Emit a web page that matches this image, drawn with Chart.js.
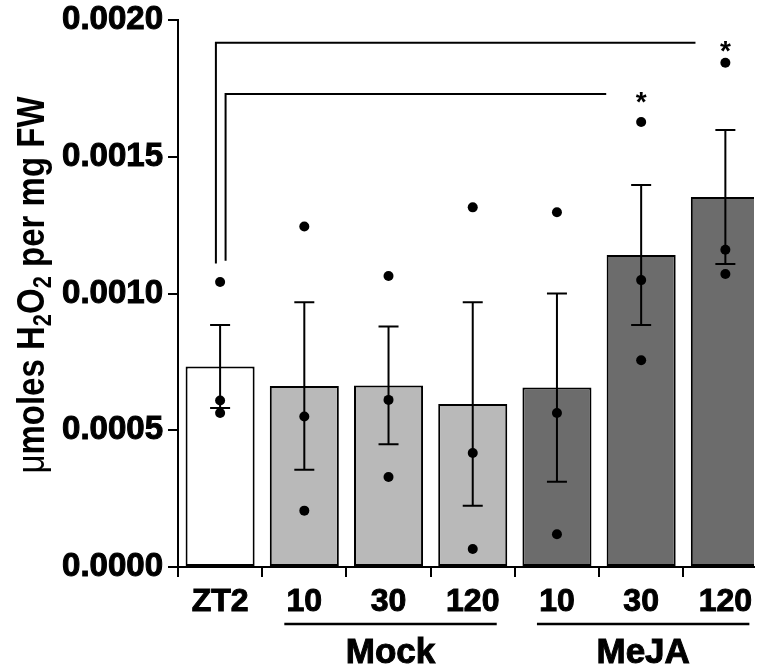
<!DOCTYPE html>
<html>
<head>
<meta charset="utf-8">
<script src="https://cdn.jsdelivr.net/npm/chart.js@4.4.0/dist/chart.umd.min.js"></script>
<style>
  html, body { margin: 0; padding: 0; background: #fff; overflow: hidden; }
  #wrap { width: 759px; height: 669px; }
</style>
</head>
<body>
<div id="wrap"><canvas id="mycanvas" width="759" height="669"></canvas></div>
<script>
// values
var categories = ['ZT2', '10', '30', '120', '10', '30', '120'];
var groupNames = ['Mock', 'MeJA'];
var groupStart = [1, 4];
var groupEnd = [3, 6];
var means = [0.000733, 0.000662, 0.000664, 0.000596, 0.000656, 0.001141, 0.001353];
var sems = [0.000152, 0.000306, 0.000215, 0.000372, 0.000344, 0.000256, 0.000245];
var replicates = [
  [0.001042, 0.000609, 0.000563],
  [0.001245, 0.000550, 0.000206],
  [0.001064, 0.000611, 0.000329],
  [0.001315, 0.000417, 0.000066],
  [0.001297, 0.000563, 0.000120],
  [0.001627, 0.001049, 0.000756],
  [0.001844, 0.001160, 0.001071]
];
var yTicks = [0, 0.0005, 0.0010, 0.0015, 0.0020];
// significance brackets: left leg, right end, top level, foot level, star over category
var brackets = [
  { x0: -0.05, x1: 5.645, top: 0.001917, foot: 0.00111, star: 6 },
  { x0: 0.065, x1: 4.585, top: 0.001729, foot: 0.00112, star: 5 }
];

var barColors = ['#ffffff', '#b9b9b9', '#b9b9b9', '#b9b9b9', '#6c6c6c', '#6c6c6c', '#6c6c6c'];

var barData = means.map(function (m, i) { return { x: i, y: m }; });
var dotData = [];
replicates.forEach(function (reps, i) {
  reps.forEach(function (v) { dotData.push({ x: i, y: v }); });
});

var errorBars = {
  id: 'errorBars',
  afterDatasetDraw: function (chart, args) {
    if (args.index !== 0) return;
    var ctx = chart.ctx, x = chart.scales.x, y = chart.scales.y;
    ctx.save();
    ctx.strokeStyle = '#000';
    ctx.lineWidth = 2;
    for (var i = 0; i < means.length; i++) {
      var px = x.getPixelForValue(i);
      var hi = y.getPixelForValue(means[i] + sems[i]);
      var lo = y.getPixelForValue(means[i] - sems[i]);
      ctx.beginPath();
      ctx.moveTo(px, hi); ctx.lineTo(px, lo);
      ctx.moveTo(px - 10, hi); ctx.lineTo(px + 10, hi);
      ctx.moveTo(px - 10, lo); ctx.lineTo(px + 10, lo);
      ctx.stroke();
    }
    ctx.restore();
  }
};

var extras = {
  id: 'extras',
  afterDraw: function (chart) {
    var ctx = chart.ctx, x = chart.scales.x, y = chart.scales.y;
    ctx.save();
    ctx.strokeStyle = '#000';
    ctx.fillStyle = '#000';

    // brackets + stars
    ctx.lineWidth = 2;
    brackets.forEach(function (b) {
      var xl = x.getPixelForValue(b.x0), xr = x.getPixelForValue(b.x1);
      var yt = y.getPixelForValue(b.top), yf = y.getPixelForValue(b.foot);
      ctx.beginPath();
      ctx.moveTo(xl, yf); ctx.lineTo(xl, yt); ctx.lineTo(xr, yt);
      ctx.stroke();
      ctx.font = 'bold 28px "Liberation Sans"';
      ctx.textAlign = 'center';
      ctx.textBaseline = 'alphabetic';
      ctx.fillText('*', x.getPixelForValue(b.star), yt + 17);
    });

    // group underlines and names
    ctx.lineWidth = 2.5;
    ctx.font = 'bold 35px "Liberation Sans"';
    ctx.textAlign = 'center';
    ctx.textBaseline = 'alphabetic';
    for (var g = 0; g < groupNames.length; g++) {
      var a = x.getPixelForValue(groupStart[g]) - 20;
      var b = x.getPixelForValue(groupEnd[g]) + 24;
      ctx.beginPath();
      ctx.moveTo(a, 624); ctx.lineTo(b, 624);
      ctx.stroke();
      ctx.lineWidth = 1;
      ctx.strokeText(groupNames[g], (a + b) / 2, 663);
      ctx.fillText(groupNames[g], (a + b) / 2, 663);
      ctx.lineWidth = 2.5;
    }

    // y title with subscripts
    var parts = [
      { t: '\u03bc', f: '33px "Liberation Sans"', dy: 0 },
      { t: 'moles H', f: 'bold 33px "Liberation Sans"', dy: 0 },
      { t: '2', f: 'bold 22px "Liberation Sans"', dy: 6 },
      { t: 'O', f: 'bold 33px "Liberation Sans"', dy: 0 },
      { t: '2', f: 'bold 22px "Liberation Sans"', dy: 6 },
      { t: ' per mg FW', f: 'bold 33px "Liberation Sans"', dy: 0 }
    ];
    var total = 0;
    parts.forEach(function (p) { ctx.font = p.f; p.w = ctx.measureText(p.t).width; total += p.w; });
    ctx.translate(30, 285);
    ctx.scale(1.15, 1);
    ctx.rotate(-Math.PI / 2);
    ctx.textAlign = 'left';
    var cx = -total / 2;
    parts.forEach(function (p) {
      ctx.font = p.f;
      ctx.fillText(p.t, cx, 12 + p.dy);
      cx += p.w;
    });
    ctx.restore();
  }
};

new Chart(document.getElementById('mycanvas'), {
  type: 'bar',
  data: {
    datasets: [
      {
        type: 'bar',
        data: barData,
        backgroundColor: barColors,
        borderColor: '#000',
        borderWidth: 2,
        borderSkipped: false,
        categoryPercentage: 1,
        barPercentage: 0.82,
        order: 2
      },
      {
        type: 'scatter',
        data: dotData,
        backgroundColor: '#000',
        borderWidth: 0,
        pointRadius: 5,
        order: 1
      }
    ]
  },
  options: {
    responsive: false,
    animation: false,
    devicePixelRatio: 1,
    layout: { padding: { top: 20, right: 0, bottom: 0, left: 0 } },
    plugins: { legend: { display: false }, tooltip: { enabled: false } },
    scales: {
      x: {
        type: 'linear',
        min: -0.5,
        max: 6.34,
        offset: false,
        afterBuildTicks: function (s) {
          s.ticks = categories.map(function (c, i) { return { value: i }; });
        },
        afterFit: function (s) { s.height = 102; s.paddingLeft = 0; s.paddingRight = 0; },
        grid: { drawOnChartArea: false, color: '#000', lineWidth: 2, tickLength: 10 },
        border: { color: '#000', width: 2 },
        ticks: {
          autoSkip: false,
          maxRotation: 0,
          padding: 6,
          color: '#000',
          textStrokeColor: '#000',
          textStrokeWidth: 1,
          font: { family: 'Liberation Sans', size: 32, weight: 'bold' },
          callback: function (v) { return categories[v]; }
        }
      },
      y: {
        min: 0,
        max: 0.002,
        afterBuildTicks: function (s) {
          s.ticks = yTicks.map(function (v) { return { value: v }; });
        },
        afterFit: function (s) { s.width = 178; s.paddingTop = 0; s.paddingBottom = 0; },
        grid: { drawOnChartArea: false, color: '#000', lineWidth: 2, tickLength: 10 },
        border: { color: '#000', width: 2 },
        ticks: {
          padding: 5,
          color: '#000',
          textStrokeColor: '#000',
          textStrokeWidth: 1,
          font: { family: 'Liberation Sans', size: 33, weight: 'bold' },
          callback: function (v) { return v.toFixed(4); }
        }
      }
    }
  },
  plugins: [errorBars, extras]
});
</script>
</body>
</html>
